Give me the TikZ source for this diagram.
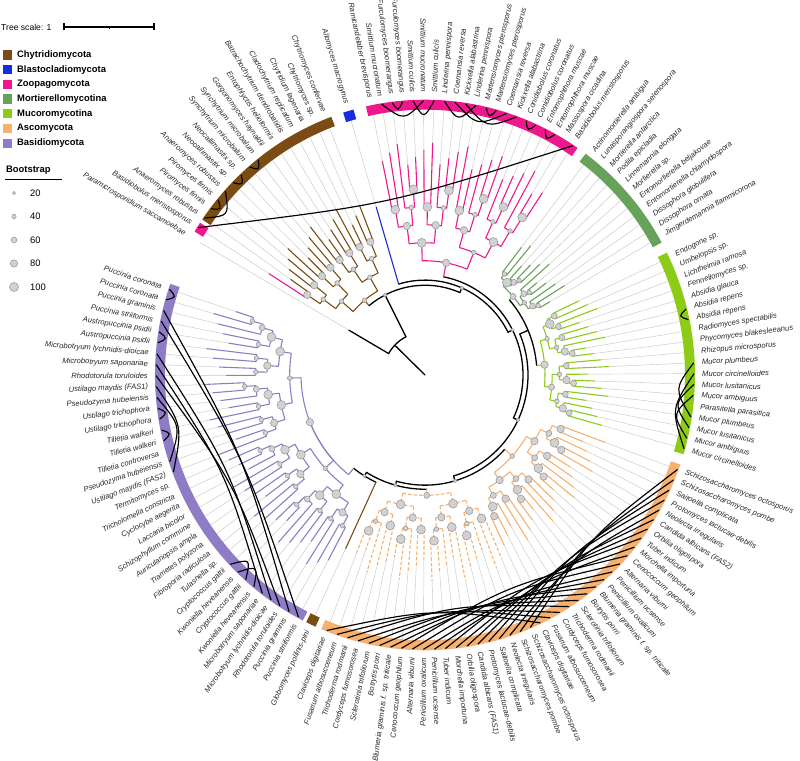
\documentclass[tikz,border=0pt]{standalone}
\usepackage{fontspec}
\setmainfont{Liberation Sans}
\definecolor{chy}{RGB}{122,76,20}
\definecolor{bla}{RGB}{22,45,225}
\definecolor{zoo}{RGB}{238,24,140}
\definecolor{mor}{RGB}{102,162,90}
\definecolor{muc}{RGB}{140,204,22}
\definecolor{asc}{RGB}{246,176,112}
\definecolor{bas}{RGB}{142,124,198}
\tikzset{
  declare function={leafang(\x)=(\x<35.5)*(161.8+2.29*\x)
    + and(\x>35.5,\x<36.5)*245
    + and(\x>36.5,\x<76.5)*(248.6+2.34*(\x-37))
    + and(\x>76.5,\x<95.5)*(344.4+2.27*(\x-77))
    + and(\x>95.5,\x<106.5)*(389.9+2.25*(\x-96))
    + and(\x>106.5,\x<127.5)*(416.7+2.24*(\x-107))
    + and(\x>127.5,\x<128.5)*466.5
    + and(\x>128.5,\x<144.5)*(471.5+2.4*(\x-129))
    + (\x>144.5)*510;},
  lbl/.style={font=\itshape\fontsize{7.6}{8}\selectfont, inner sep=0pt, text=black!85},
  leafline/.style={draw=black!22, line width=0.45pt},
  bb/.style={draw=black, line width=1.3pt, line cap=round},
  boot/.style={fill=black!18, draw=black!42, line width=0.5pt},
  conn/.style={draw=black, line width=1.15pt},
  spec/.style={draw=zoo, line width=1.1pt},
  legt/.style={anchor=west, inner sep=0pt, font=\bfseries\fontsize{9.4}{10}\selectfont},
  legn/.style={anchor=west, inner sep=0pt, font=\fontsize{9.4}{10}\selectfont},
}
\def\Rin{260}
\def\Rlab{277}
\def\Gsp{-1}
\newcommand\setclade[7]{%
  \def\Ga{#1}\def\Gd{#2}\def\Gb{#3}\def\Gt{#4}\def\Gn{#5}\def\Gs{#6}\def\Gsp{-1}%
  \tikzset{cl/.style={#7, line width=1.1pt}}%
  \pgfmathsetmacro\Gstep{(\Gt-28-\Gb)/max(1,ceil(ln(\Gn)/ln(2)-0.001))}%
}
\newcommand\mysubtree[4]{%
\begingroup
\pgfmathsetmacro\myang{\Ga+\Gd*(#1+#2)/2}%
\ifnum#1=#2\relax
  \pgfmathsetmacro\myr{\Gt-7*mod(#1*5+\Gs,4)}%
  \ifnum#1=\Gsp\relax
    \draw[spec] (\myang:#4) -- (\myang:\myr);
  \else
    \draw[cl] (\myang:#4) -- (\myang:\myr);
  \fi
  \draw[leafline] (\myang:\myr) -- (\myang:\Rin);
\else
  \pgfmathsetmacro\myr{\Gb+#3*\Gstep}%
  \pgfmathtruncatemacro\mm{floor((#1+#2)/2)}%
  \pgfmathtruncatemacro\mmp{\mm+1}%
  \pgfmathtruncatemacro\dd{#3+1}%
  \pgfmathsetmacro\angA{\Ga+\Gd*(#1+\mm)/2}%
  \pgfmathsetmacro\angB{\Ga+\Gd*(\mmp+#2)/2}%
  \draw[cl] (\myang:#4) -- (\myang:\myr);
  \draw[cl] (\angA:\myr) arc[start angle=\angA, end angle=\angB, radius=\myr];
  \edef\next{\noexpand\mysubtree{#1}{\mm}{\dd}{\myr}\noexpand\mysubtree{\mmp}{#2}{\dd}{\myr}}%
  \next
  \pgfmathsetmacro\br{2.3+0.7*mod(#1*3+#2+\Gs,4)}%
  \filldraw[boot] (\myang:\myr) circle[radius=\br];
\fi
\endgroup}
\newcommand\putlabel[2]{%
  \pgfmathtruncatemacro\gi{#1}%
  \pgfmathsetmacro\la{leafang(\gi)}%
  \pgfmathsetmacro\cc{cos(\la)}%
  \ifdim\cc pt<0pt
    \pgfmathsetmacro\rr{\la+180}%
    \node[lbl,anchor=east,rotate=\rr] (lab\gi) at (\la:\Rlab) {#2};
  \else
    \node[lbl,anchor=west,rotate=\la] (lab\gi) at (\la:\Rlab) {#2};
  \fi}
\newcommand\fconn[3][18]{%
  \pgfmathsetmacro\cta{leafang(#2)}%
  \pgfmathsetmacro\ctb{leafang(#3)}%
  \pgfmathsetmacro\ctm{(\cta+\ctb)/2}%
  \pgfmathsetmacro\crr{269*cos((\ctb-\cta)/2)-#1}%
  \draw[conn] (\cta:269) .. controls (\ctm:\crr) .. (\ctb:269);}
\begin{document}
\begin{tikzpicture}[x=1pt,y=1pt]
\useasboundingbox (0,0) rectangle (800,760);
% ---------------- legend
\node[anchor=west, inner sep=0pt, font=\fontsize{8.6}{10}\selectfont] (tscale) at (1,733) {Tree scale: 1};
\coordinate (sbL) at (64,733);
\coordinate (sbR) at (154,733);
\coordinate (sbM) at (109,733);
\draw[line width=1.1pt] (sbL) -- (sbR);
\draw[line width=1.1pt] ([yshift=-3.5pt]sbL) -- ([yshift=3.5pt]sbL);
\draw[line width=1.1pt] ([yshift=-3.5pt]sbR) -- ([yshift=3.5pt]sbR);
\draw[line width=0.8pt] (sbM) -- ([yshift=-2pt]sbM);
\foreach \y/\c/\t [count=\n] in {705/chy/Chytridiomycota, 690.3/bla/Blastocladiomycota, 675.6/zoo/Zoopagomycota, 660.9/mor/Mortierellomycotina, 646.2/muc/Mucoromycotina, 631.5/asc/Ascomycota, 616.8/bas/Basidiomycota}{
  \fill[fill=\c] (3,\y-4.6) rectangle (12,\y+4.6);
  \node[legt] (leg\n) at (17,\y) {\t};
}
\node[legt] (bstitle) at (6,590) {Bootstrap};
\draw[line width=1pt] (5,580) -- (62,580);
\foreach \y/\r/\t [count=\n] in {567/1.6/20, 543.5/2.2/40, 520/2.9/60, 496.5/3.7/80, 473/4.5/100}{
  \filldraw[boot] (14,\y) circle[radius=\r];
  \node[legn] (bs\n) at (30,\y) {\t};
}
% ---------------- tree
\begin{scope}[shift={(425,385)}, yscale=1.02]
% backbone
\draw[bb] (0,0) -- (136:42);
\draw[bb] (117:42) arc[start angle=117, end angle=150, radius=42];
\draw[bb] (150:42) -- (150:88);
\draw[leafline] (150:88) -- (150:\Rin);
\draw[bb] (117:42) -- (117:88);
\draw[bb] (66.65:88) arc[start angle=66.65, end angle=129.5, radius=88];
\draw[bb] (66.65:88) -- (66.65:93);
\draw[bb] (26.8:93) arc[start angle=26.8, end angle=106.5, radius=93];
\draw[bb] (26.8:93) -- (26.8:98);
\draw[bb] (-25.45:98) arc[start angle=-25.45, end angle=79.1, radius=98];
\draw[bb] (-25.45:98) -- (-25.45:103);
\draw[bb] (-73.9:103) arc[start angle=-73.9, end angle=23, radius=103];
\draw[bb] (-73.9:103) -- (-73.9:108);
\draw[bb] (-105.35:108) arc[start angle=-105.35, end angle=-42.37, radius=108];
\draw[bb] (-105.35:108) -- (-105.35:112);
\draw[bb] (-121.5:112) arc[start angle=-121.5, end angle=-89.17, radius=112];
\draw[bb] (-121.5:112) -- (-121.5:116);
\draw[bb] (-128:116) arc[start angle=-128, end angle=-115, radius=116];
\draw[bb] (23:103) -- (23:112);
\draw[bb] (4.83:112) arc[start angle=4.83, end angle=41.15, radius=112];
% clades
\setclade{471.5}{2.4}{95}{185}{16}{1}{draw=chy}
\def\Gsp{15}
\draw[cl] (129.5:88) -- (129.5:95);
\mysubtree{0}{15}{0}{95}
\draw[draw=bla, line width=1.1pt] (106.5:93) -- (106.5:172);
\draw[leafline] (106.5:172) -- (106.5:\Rin);
\setclade{416.7}{2.24}{112}{228}{21}{2}{draw=zoo}
\draw[cl] (79.1:98) -- (79.1:112);
\mysubtree{0}{20}{0}{112}
\setclade{389.9}{2.25}{117}{165}{11}{3}{draw=mor}
\draw[cl] (41.15:112) -- (41.15:117);
\mysubtree{0}{10}{0}{117}
\setclade{344.4}{2.27}{120}{184}{19}{4}{draw=muc}
\draw[cl] (4.83:112) -- (4.83:120);
\mysubtree{0}{18}{0}{120}
\setclade{295.4}{2.34}{118}{192}{20}{5}{draw=asc}
\draw[cl] (-42.37:108) -- (-42.37:118);
\mysubtree{0}{19}{0}{118}
\setclade{248.6}{2.34}{118}{202}{20}{6}{draw=asc, dash pattern=on 3.5pt off 2pt}
\draw[cl] (-89.17:112) -- (-89.17:118);
\mysubtree{0}{19}{0}{118}
\setclade{161.8}{2.29}{124}{220}{36}{7}{draw=bas}
\draw[cl] (232:116) -- (232:124);
\draw[cl] (201.875:124) arc[start angle=201.875, end angle=232, radius=124];
\mysubtree{0}{35}{0}{124}
\draw[draw=chy, line width=1.1pt] (245:116) -- (245:188);
\draw[leafline] (245:188) -- (245:\Rin);
% small backbone support marks
\foreach \a/\r in {117/88, 66.65/93, 26.8/98, -25.45/103, -73.9/108, -105.35/112, -121.5/116}{
  \filldraw[boot] (\a:\r) circle[radius=1.8];
}
% colour strip
\foreach \a/\b/\c in {160.65/243.1/bas, 243.9/246.1/chy, 247.43/341.03/asc, 343.27/386.4/muc, 388.78/413.5/mor, 415.58/462.62/zoo, 465.35/467.65/bla, 470.3/505.6/chy, 506.4/508.6/zoo}{
  \draw[line width=10pt, draw=\c] (\a:265) arc[start angle=\a, end angle=\b, radius=265];
}
% connections between gene copies
\foreach \p/\q in {0/1, 4/5, 11/12, 13/14, 89/90, 109/110, 111/112, 115/116, 124/125, 136/137, 138/139, 141/142}{
  \fconn[9]{\p}{\q}
}
\foreach \p/\q in {2/34, 3/35, 6/32, 7/31, 8/33, 9/17, 10/16, 27/29, 28/30,
  37/57, 38/58, 39/60, 40/59, 41/61, 42/62, 43/63, 44/67, 45/66, 46/64, 47/65, 48/69, 49/68, 50/70, 51/71, 52/73, 53/74, 54/72, 55/75, 56/76,
  77/84, 78/82, 79/83, 80/85, 113/118, 114/119, 117/120, 121/123, 122/126, 107/144, 140/143}{
  \fconn{\p}{\q}
}
% labels
\foreach \nm [count=\k from 0] in {Puccinia coronata, Puccinia coronata, Puccinia graminis, Puccinia striiformis, Austropuccinia psidii, Austropuccinia psidii, Microbotryum lychnidis-dioicae, Microbotryum saponariae, Rhodotorula toruloides, Ustilago maydis (FAS1), Pseudozyma hubeiensis, Ustilago trichophora, Ustilago trichophora, Tilletia walkeri, Tilletia walkeri, Tilletia controversa, Pseudozyma hubeiensis, Ustilago maydis (FAS2), Termitomyces sp., Tricholomella constricta, Cyclocybe aegerita, Laccaria bicolor, Schizophyllum commune, Auriculariopsis ampla, Trametes polyzona, Fibroporia radiculosa, Tulasnella sp., Cryptococcus gattii, Kwoniella heveanensis, Cryptococcus gattii, Kwoniella heveanensis, Microbotryum saponariae, Microbotryum lychnidis-dioicae, Rhodotorula toruloides, Puccinia graminis, Puccinia striiformis,
Globomyces pollinis-pini,
Claviceps digitariae, Fusarium albosucceneum, Trichoderma rodmanii, Cordyceps fumosorosea, Sclerotinia trifoliorum, Botrytis porri, Blumeria graminis f. sp. triticale, Cenococcum geophilum, Alternaria viburni, Penicillium oxalicum, Penicillium ucsense, Tuber indicum, Morchella importuna, Orbilia oligospora, Candida albicans (FAS1), Protomyces lactucae-debilis, Saitoella complicata, Neolecta irregularis, Schizosaccharomyces pombe, Schizosaccharomyces octosporus, Claviceps digitariae, Fusarium albosucceneum, Cordyceps fumosorosea, Trichoderma rodmanii, Sclerotinia trifoliorum, Botrytis porri, Blumeria graminis f. sp. triticale, Penicillium oxalicum, Penicillium ucsense, Alternaria viburni, Cenococcum geophilum, Morchella importuna, Tuber indicum, Orbilia oligospora, Candida albicans (FAS2), Neolecta irregularis, Protomyces lactucae-debilis, Saitoella complicata, Schizosaccharomyces pombe, Schizosaccharomyces octosporus,
Mucor circinelloides, Mucor ambiguus, Mucor lusitanicus, Mucor plumbeus, Parasitella parasitica, Mucor ambiguus, Mucor lusitanicus, Mucor circinelloides, Mucor plumbeus, Rhizopus microsporus, Phycomyces blakesleeanus, Radiomyces spectabilis, Absidia repens, Absidia repens, Absidia glauca, Fennellomyces sp., Lichtheimia ramosa, Umbelopsis sp., Endogone sp.,
Jimgerdemannia flammicorona, Dissophora ornata, Dissophora globulifera, Entomortierella chlamydospora, Entomortierella beljakovae, Mortierella sp., Linnemannia elongata, Podila epicladia, Mortierella antarctica, Lunasporangiospora selenospora, Actinomortierella ambigua,
Basidiobolus meristosporus, Massospora cicadina, Entomophthora muscae, Entomophthora muscae, Conidiobolus coronatus, Conidiobolus coronatus, Kickxella alabastrina, Coemansia reversa, Martensiomyces pterosporus, Martensiomyces pterosporus, Linderina pennispora, Kickxella alabastrina, Coemansia reversa, Linderina pennispora, Smittium culicis, Smittium mucronatum, Smittium culicis, Furculomyces boomerangus, Furculomyces boomerangus, Smittium mucronatum, Ramicandelaber brevisporus,
Allomyces macrogynus,
Chytriomyces confervae, Chytriomyces sp., Chytridium lagenaria, Cladochytrium replicatum, Batrachochytrium dendrobatidis, Entophlyctis helioformis, Gorgonomyces haynaldii, Synchytrium microbalum, Synchytrium microbalum, Neocallimastix sp., Neocallimastix sp., Anaeromyces robustus, Piromyces finnis, Piromyces finnis, Anaeromyces robustus, Basidiobolus meristosporus,
Paramicrosporidium saccamoebae}{
  \putlabel{\k}{\nm}
}
\end{scope}
\end{tikzpicture}
\end{document}
